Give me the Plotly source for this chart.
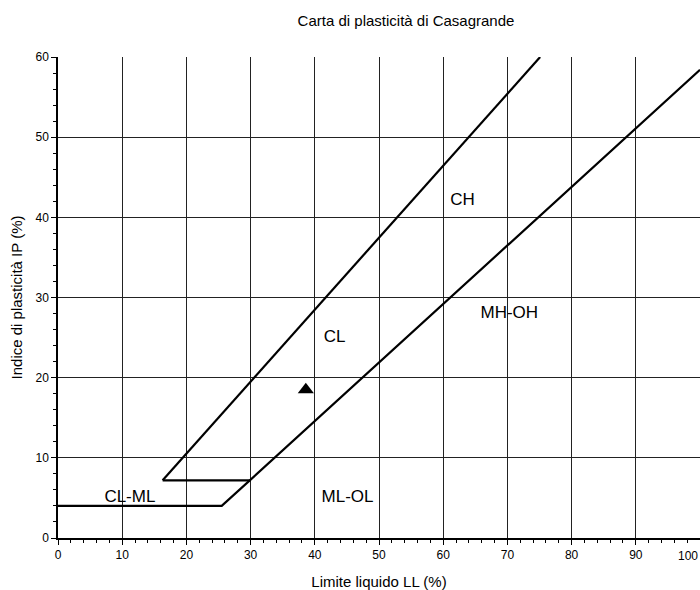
import plotly.graph_objects as go

# U-line (upper boundary) and its lower horizontal segment
u_ll = [16.3, 75.1]
u_pi = [7.2, 60.0]
h_ll = [16.3, 30.0]
h_pi = [7.2, 7.2]
# A-line with its horizontal lower part
a_ll = [0.0, 25.5, 100.0]
a_pi = [4.0, 4.0, 58.4]
# sample point
pt_ll = [38.6]
pt_pi = [18.5]
# zone labels
lab_text = ["CH", "MH-OH", "CL", "CL-ML", "ML-OL"]
lab_ll = [63.0, 70.3, 43.1, 11.2, 45.1]
lab_pi = [42.1, 28.0, 25.0, 5.0, 5.0]

FONT = "Liberation Sans, Arial, sans-serif"

fig = go.Figure()
line_style = dict(color="black", width=2.2)
fig.add_trace(go.Scatter(x=u_ll, y=u_pi, mode="lines", line=line_style, showlegend=False))
fig.add_trace(go.Scatter(x=h_ll, y=h_pi, mode="lines", line=line_style, showlegend=False))
fig.add_trace(go.Scatter(x=a_ll, y=a_pi, mode="lines", line=line_style, showlegend=False))
fig.add_trace(go.Scatter(x=pt_ll, y=pt_pi, mode="markers",
                         marker=dict(symbol="triangle-up", size=14, color="black"),
                         showlegend=False))
fig.add_trace(go.Scatter(x=lab_ll, y=lab_pi, mode="text", text=lab_text,
                         textfont=dict(family=FONT, size=17, color="black"),
                         showlegend=False))

fig.add_annotation(x=100, xref="x", y=0, yref="paper", yshift=-18, text="100",
                   showarrow=False, xanchor="right", yanchor="middle",
                   font=dict(size=12, family=FONT, color="black"))

fig.update_layout(
    width=700, height=590,
    margin=dict(l=58, r=0, t=57, b=52),
    paper_bgcolor="white", plot_bgcolor="white",
    font=dict(family=FONT, color="black"),
    title=dict(text="Carta di plasticità di Casagrande", x=0.58, xanchor="center",
               y=0.965, yanchor="middle", font=dict(size=15, family=FONT)),
    xaxis=dict(range=[0, 100], dtick=10, showgrid=True, gridcolor="#222", gridwidth=1,
               showline=True, linecolor="black", linewidth=1.5, zeroline=False,
               automargin=False,
               ticks="outside", ticklen=5, tickcolor="black", tickfont=dict(size=12),
               minor=dict(dtick=2, ticks="outside", ticklen=3, tickcolor="black", showgrid=False),
               title=dict(text="Limite liquido LL (%)", font=dict(size=15), standoff=22)),
    yaxis=dict(range=[0, 60], dtick=10, showgrid=True, gridcolor="#222", gridwidth=1,
               showline=True, linecolor="black", linewidth=1.5, zeroline=False,
               automargin=False,
               ticks="outside", ticklen=5, tickcolor="black", tickfont=dict(size=12),
               minor=dict(dtick=2, ticks="outside", ticklen=3, tickcolor="black", showgrid=False),
               title=dict(text="Indice di plasticità IP (%)", font=dict(size=15), standoff=9)),
)

fig.write_html("out.html")
